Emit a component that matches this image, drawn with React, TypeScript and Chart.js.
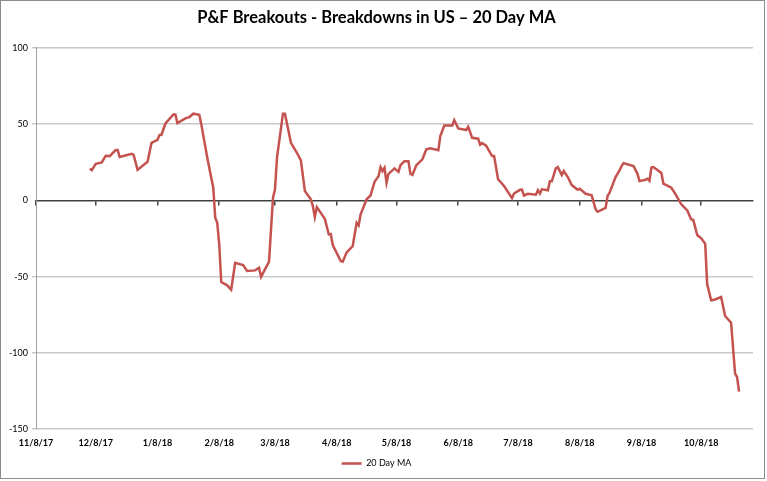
import { useEffect, useRef } from "react";
import { Chart, registerables } from "chart.js";

Chart.register(...registerables);

const TITLE = "P&F Breakouts - Breakdowns in US \u2013 20 Day MA";
const SERIES_NAME = "20 Day MA";

const DATES = [
  "12/5/17", "12/6/17", "12/8/17", "12/11/17", "12/13/17", "12/15/17", "12/18/17", "12/19/17", "12/20/17", "12/26/17",
  "12/27/17", "12/29/17", "1/3/18", "1/5/18", "1/8/18", "1/9/18", "1/10/18", "1/12/18", "1/16/18", "1/17/18",
  "1/18/18", "1/22/18", "1/24/18", "1/26/18", "1/29/18", "1/30/18", "2/2/18", "2/5/18", "2/6/18", "2/7/18",
  "2/8/18", "2/9/18", "2/12/18", "2/14/18", "2/16/18", "2/20/18", "2/22/18", "2/26/18", "2/28/18", "3/1/18",
  "3/5/18", "3/7/18", "3/8/18", "3/9/18", "3/12/18", "3/13/18", "3/16/18", "3/19/18", "3/21/18", "3/23/18",
  "3/26/18", "3/27/18", "3/28/18", "3/29/18", "4/2/18", "4/4/18", "4/5/18", "4/6/18", "4/10/18", "4/11/18",
  "4/13/18", "4/16/18", "4/18/18", "4/19/18", "4/20/18", "4/23/18", "4/25/18", "4/27/18", "4/29/18", "4/30/18",
  "5/1/18", "5/2/18", "5/3/18", "5/4/18", "5/7/18", "5/9/18", "5/10/18", "5/12/18", "5/14/18", "5/15/18",
  "5/16/18", "5/18/18", "5/21/18", "5/23/18", "5/25/18", "5/29/18", "5/30/18", "6/1/18", "6/5/18", "6/6/18",
  "6/8/18", "6/12/18", "6/13/18", "6/15/18", "6/18/18", "6/19/18", "6/20/18", "6/22/18", "6/25/18", "6/26/18",
  "6/28/18", "7/1/18", "7/5/18", "7/6/18", "7/9/18", "7/10/18", "7/11/18", "7/13/18", "7/17/18", "7/18/18",
  "7/19/18", "7/20/18", "7/23/18", "7/24/18", "7/25/18", "7/27/18", "7/28/18", "7/30/18", "7/31/18", "8/2/18",
  "8/4/18", "8/7/18", "8/8/18", "8/11/18", "8/14/18", "8/16/18", "8/17/18", "8/21/18", "8/22/18", "8/23/18",
  "8/26/18", "8/28/18", "8/29/18", "8/30/18", "9/4/18", "9/6/18", "9/7/18", "9/10/18", "9/11/18", "9/12/18",
  "9/13/18", "9/14/18", "9/18/18", "9/19/18", "9/23/18", "9/25/18", "9/28/18", "10/1/18", "10/3/18", "10/4/18",
  "10/6/18", "10/8/18", "10/10/18", "10/11/18", "10/13/18", "10/15/18", "10/18/18", "10/20/18", "10/23/18", "10/25/18",
  "10/26/18", "10/27/18",
];

const MA_VALUES = [
  20.7, 19.8, 24, 24.9, 29.2, 29, 33, 33, 28.4, 30.5,
  29.8, 20, 25.3, 37.7, 39.7, 42.8, 43, 50.4, 56.3, 56.3,
  50.6, 53.7, 54.6, 56.8, 56.1, 49.8, 27.9, 8.3, -11.4, -14.7,
  -28.8, -53.5, -55.7, -58.6, -40.9, -42.4, -46.3, -45.9, -44.2, -50.1,
  -40.2, 1.7, 7.2, 28, 56.8, 56.8, 37.7, 31.2, 26.2, 6.1,
  0.7, -3.7, -10.9, -4.4, -12, -22.3, -22, -29.3, -39.8, -40.2,
  -34.1, -30, -14.7, -16.4, -9.2, 0.7, 3.3, 12.2, 15.9, 21.8,
  19.2, 21.4, 11.5, 17.4, 21, 18.7, 23.1, 25.7, 25.7, 17.4,
  16.6, 23.1, 26.9, 33.4, 34.1, 32.8, 42.1, 49.1, 49.1, 52.6,
  47.2, 46.1, 48.2, 41, 40.4, 36.5, 37.5, 35.8, 29, 29,
  13.8, 9.4, 1.5, 4.5, 6.9, 7, 3.2, 4.3, 3.7, 6.7,
  4.5, 7.2, 6.6, 12.6, 12.6, 21, 21.8, 16.6, 19.2, 15.3,
  10, 6.9, 7.6, 4.3, 3.3, -5.9, -7.5, -5, 3, 5,
  15.3, 19.7, 22.5, 24.4, 22.5, 17.4, 12.6, 13.5, 14.2, 12.8,
  21.5, 21.8, 18, 11, 8.3, 4.3, -2.6, -6.6, -12.5, -12.8,
  -22.7, -24.9, -28.4, -55, -65.5, -65, -63.4, -75.8, -80.2, -113.6,
  -115.8, -125.4,
];

const X_TICK_LABELS = [
  "11/8/17", "12/8/17", "1/8/18", "2/8/18", "3/8/18", "4/8/18",
  "5/8/18", "6/8/18", "7/8/18", "8/8/18", "9/8/18", "10/8/18",
];
const X_AXIS_START = "11/8/17";
const X_AXIS_END = "11/3/18";
const Y_MIN = -150;
const Y_MAX = 100;
const Y_STEP = 50;

const LINE_COLOR = "#C4524E";
const FONT = "Lato, 'Open Sans', sans-serif";

function toUTC(mdy: string): number {
  const [m, d, y] = mdy.split("/").map(Number);
  return Date.UTC(2000 + y, m - 1, d);
}
const BASE = toUTC(X_AXIS_START);
function dayOffset(mdy: string): number {
  return Math.round((toUTC(mdy) - BASE) / 86400000);
}

const TICK_OFFSETS = X_TICK_LABELS.map(dayOffset);

const frame = {
  id: "frame",
  beforeDraw(chart: any) {
    const { ctx, width, height } = chart;
    ctx.save();
    ctx.fillStyle = "#ffffff";
    ctx.fillRect(0, 0, width, height);
    ctx.restore();
  },
  afterDraw(chart: any) {
    const { ctx, width, height } = chart;
    ctx.save();
    ctx.strokeStyle = "#8c8c8c";
    ctx.lineWidth = 1;
    ctx.strokeRect(0.5, 0.5, width - 3, height - 3);
    ctx.restore();
  },
};

export default function App() {
  const ref = useRef<HTMLCanvasElement | null>(null);

  useEffect(() => {
    document.body.style.margin = "0";
    if (!ref.current) return;
    const setTicks = (scale: any) => {
      scale.ticks = TICK_OFFSETS.map((v) => ({ value: v }));
    };
    const chart = new Chart(ref.current, {
      type: "line",
      data: {
        datasets: [
          {
            label: SERIES_NAME,
            data: DATES.map((d, i) => ({ x: dayOffset(d), y: MA_VALUES[i] })),
            borderColor: LINE_COLOR,
            backgroundColor: LINE_COLOR,
            borderWidth: 2.5,
            pointRadius: 0,
            tension: 0,
            fill: false,
          },
        ],
      },
      options: {
        animation: false,
        responsive: false,
        devicePixelRatio: 1,
        layout: { padding: { left: 0, right: 14, top: 0, bottom: 3 } },
        plugins: {
          title: {
            display: true,
            text: TITLE,
            color: "#000000",
            font: { family: FONT, size: 16.5, weight: "bold" },
            padding: { top: 8, bottom: 20 },
          },
          legend: {
            display: true,
            position: "bottom",
            labels: {
              color: "#000000",
              font: { family: FONT, size: 9 },
              usePointStyle: true,
              pointStyle: "line",
              pointStyleWidth: 20,
              boxHeight: 9,
              padding: 11,
            },
          },
          tooltip: { enabled: false },
        },
        scales: {
          x: {
            type: "linear",
            position: "bottom",
            min: 0,
            max: dayOffset(X_AXIS_END),
            afterBuildTicks: setTicks,
            grid: { display: false },
            border: { display: false },
            ticks: {
              autoSkip: false,
              maxRotation: 0,
              padding: 0,
              color: "#000000",
              font: { family: FONT, size: 9, weight: "bold" },
              callback: (v: any) => {
                const i = TICK_OFFSETS.indexOf(Number(v));
                return i >= 0 ? X_TICK_LABELS[i] : "";
              },
            },
          },
          xZero: {
            type: "linear",
            position: { y: 0 } as any,
            min: 0,
            max: dayOffset(X_AXIS_END),
            afterBuildTicks: setTicks,
            grid: {
              drawOnChartArea: false,
              drawTicks: true,
              tickLength: 4,
              color: "#404040",
              lineWidth: 1.5,
            },
            border: { display: true, color: "#404040", width: 1.5 },
            ticks: { display: false },
          },
          y: {
            min: Y_MIN,
            max: Y_MAX,
            afterFit: (s: any) => {
              s.width = 36;
            },
            grid: {
              color: (c: any) => (c.tick && c.tick.value === 0 ? "rgba(0,0,0,0)" : "#c8c8c8"),
              lineWidth: 1.5,
              tickLength: 4,
            },
            border: { display: true, color: "#a0a0a0", width: 1 },
            ticks: {
              stepSize: Y_STEP,
              padding: 4,
              color: "#000000",
              font: { family: FONT, size: 9 },
            },
          },
        },
      },
      plugins: [frame],
    });
    return () => chart.destroy();
  }, []);

  return (
    <div style={{ width: 767, height: 481 }}>
      <canvas ref={ref} width={767} height={481} style={{ display: "block" }} />
    </div>
  );
}
